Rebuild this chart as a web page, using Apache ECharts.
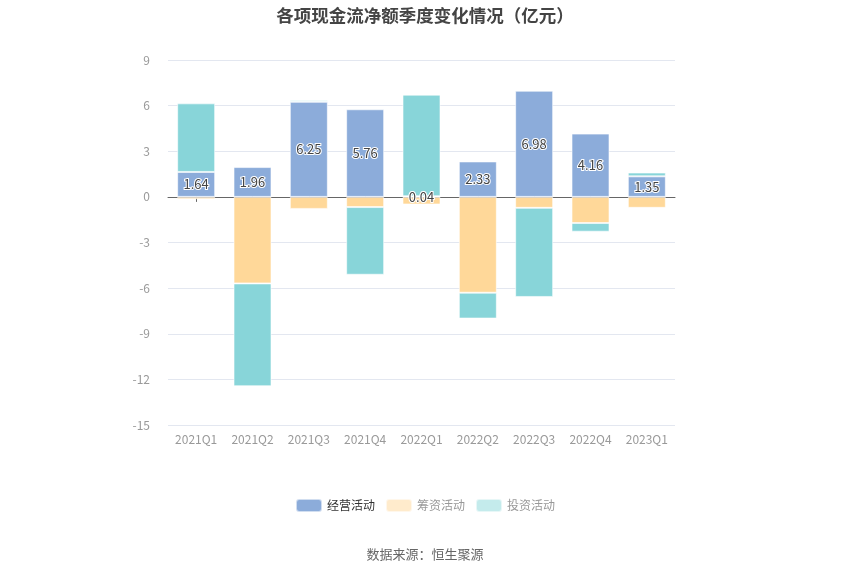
<!DOCTYPE html>
<html>
<head>
<meta charset="utf-8">
<script src="https://cdn.jsdelivr.net/npm/echarts@6/dist/echarts.min.js"></script>
<style>html,body{margin:0;padding:0;background:#fff;}#c{width:850px;height:575px;}</style>
</head>
<body>
<div id="c"></div>
<script>
var categories = ['2021Q1','2021Q2','2021Q3','2021Q4','2022Q1','2022Q2','2022Q3','2022Q4','2023Q1'];
var operating = [1.64, 1.96, 6.25, 5.76, 0.04, 2.33, 6.98, 4.16, 1.35];
var financing = [-0.15, -5.69, -0.79, -0.67, -0.50, -6.30, -0.72, -1.72, -0.72];
var investing = [4.51, -6.76, 0.10, -4.45, 6.68, -1.70, -5.86, -0.57, 0.25];
var seriesNames = ['经营活动', '筹资活动', '投资活动'];
var yTicks = { min: -15, max: 9, interval: 3 };

var chart = echarts.init(document.getElementById('c'));
var font = '"Microsoft YaHei","Noto Sans CJK SC",sans-serif';
var border = { borderColor: 'rgba(255,255,255,0.6)', borderWidth: 1 };
chart.setOption({
  textStyle: { fontFamily: font },
  title: {
    text: '各项现金流净额季度变化情况（亿元）',
    left: 'center', top: 2,
    textStyle: { fontSize: 17.5, fontWeight: 'bold', color: '#444', fontFamily: font }
  },
  legend: {
    bottom: 57, left: 'center',
    itemWidth: 26, itemHeight: 13, itemGap: 10,
    icon: 'roundRect',
    textStyle: { fontSize: 12, color: '#999' },
    data: [
      { name: seriesNames[0], itemStyle: { color: '#8cacda' }, textStyle: { color: '#333' } },
      { name: seriesNames[1], itemStyle: { color: '#ffebcc' } },
      { name: seriesNames[2], itemStyle: { color: '#c4ebec' } }
    ]
  },
  graphic: [{
    type: 'text', left: 'center', top: 548,
    style: { text: '数据来源：恒生聚源', fontSize: 13, fill: '#666', fontFamily: font }
  }],
  grid: { left: 168, right: 175, top: 60, bottom: 150 },
  xAxis: [{
    type: 'category', data: categories,
    axisLine: { onZero: true, lineStyle: { color: '#666' } },
    axisTick: { show: true, alignWithLabel: true, length: 5, lineStyle: { color: '#666' } },
    axisLabel: { show: false }
  }, {
    type: 'category', data: categories, position: 'bottom',
    axisLine: { show: false }, axisTick: { show: false },
    axisLabel: { color: '#999', fontSize: 12, margin: 8 }
  }],
  yAxis: {
    type: 'value', min: yTicks.min, max: yTicks.max, interval: yTicks.interval,
    axisLine: { show: false }, axisTick: { show: false },
    axisLabel: { color: '#999', fontSize: 12, margin: 18 },
    splitLine: { lineStyle: { color: '#e3e7f0' } }
  },
  series: [{
    name: seriesNames[0], type: 'bar', stack: 'all', data: operating, barWidth: 38,
    itemStyle: Object.assign({ color: '#8cacda' }, border),
    label: {
      show: true, position: 'inside', color: '#444', fontSize: 13,
      textBorderColor: '#fff', textBorderWidth: 2,
      formatter: function (p) { return p.value.toFixed(2); }
    }
  }, {
    name: seriesNames[1], type: 'bar', stack: 'all', data: financing, barWidth: 38,
    itemStyle: Object.assign({ color: '#ffd899' }, border)
  }, {
    name: seriesNames[2], type: 'bar', stack: 'all', data: investing, barWidth: 38,
    itemStyle: Object.assign({ color: '#88d5d9' }, border)
  }]
});
</script>
</body>
</html>
